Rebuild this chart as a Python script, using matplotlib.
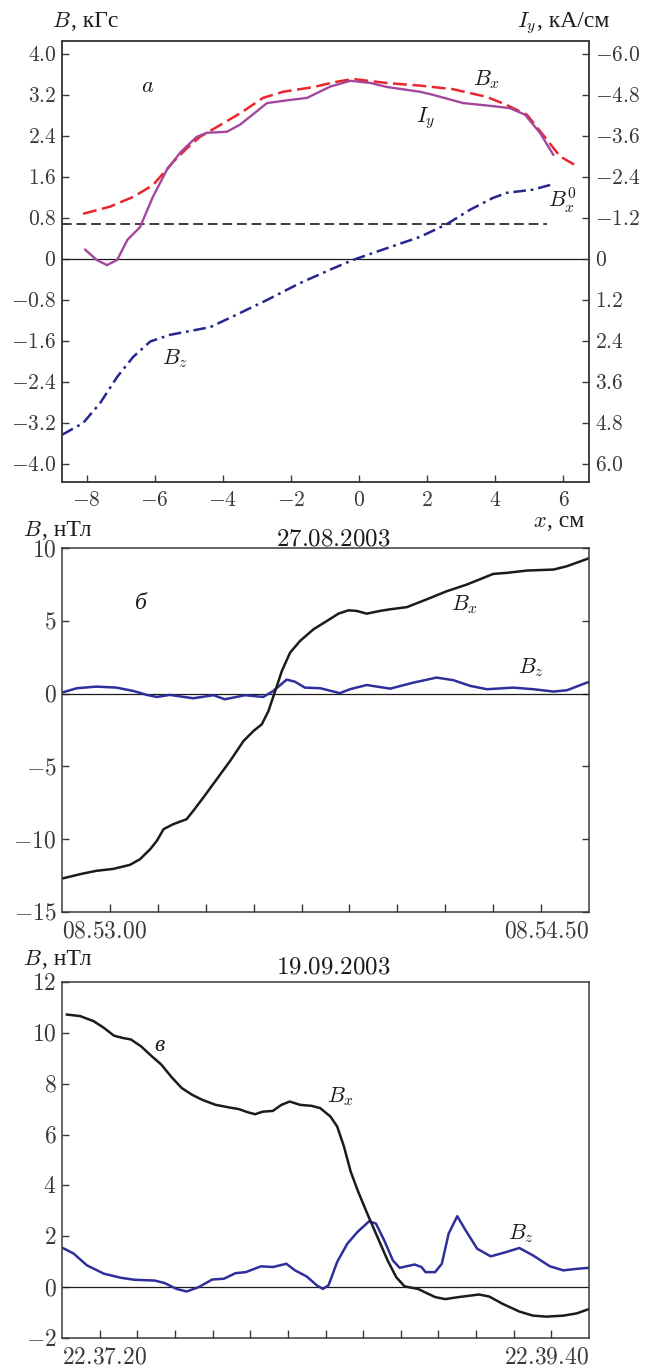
import matplotlib
matplotlib.use('Agg')
import matplotlib.pyplot as plt

plt.rcParams['mathtext.fontset'] = 'cm'
plt.rcParams['font.family'] = ['Liberation Serif', 'DejaVu Serif']
plt.rcParams['lines.scale_dashes'] = False

# ---- panel a: model profile along x (cm) ----------------------------------
aBxX = [-8.1, -7.31, -6.63, -6.05, -5.46, -5.05, -4.67, -4.08, -3.49, -2.82,
        -2.23, -1.35, -0.7, -0.18, 0.82, 1.79, 2.76, 3.75, 4.34, 4.93, 5.52,
        5.9, 6.34]
aBxY = [0.88, 1.02, 1.21, 1.44, 1.89, 2.16, 2.38, 2.61, 2.84, 3.14,
        3.26, 3.35, 3.45, 3.51, 3.43, 3.38, 3.31, 3.16, 3.0, 2.81, 2.32,
        2.0, 1.83]

# current density, kA/cm (right axis)
aIyX = [-8.04, -7.7, -7.4, -7.1, -6.8, -6.43, -6.05, -5.64, -5.25, -4.77,
        -4.47, -3.88, -3.49, -2.7, -2.03, -1.53, -0.85, -0.26, 0.32, 0.82,
        1.79, 2.17, 3.05, 3.93, 4.43, 4.87, 5.31, 5.7]
aIyY = [-0.27, 0.03, 0.18, 0.03, -0.56, -0.93, -1.82, -2.61, -3.11, -3.57,
        -3.69, -3.72, -3.93, -4.56, -4.65, -4.71, -5.04, -5.21, -5.15, -5.03,
        -4.89, -4.80, -4.56, -4.47, -4.41, -4.22, -3.69, -3.05]

aBzX = [-8.72, -8.1, -7.6, -7.1, -6.63, -6.13, -5.55, -4.37, -3.7, -2.7,
        -1.73, -0.85, -0.18, 0.82, 1.79, 2.58, 3.26, 3.93, 4.34, 5.1, 5.7]
aBzY = [-3.43, -3.2, -2.81, -2.3, -1.91, -1.61, -1.48, -1.33, -1.12, -0.80,
        -0.47, -0.21, -0.02, 0.21, 0.43, 0.68, 0.96, 1.19, 1.29, 1.35, 1.46]

aBx0X = [-8.72, 5.52]
aBx0Y = [0.68, 0.68]

aLeftTicks = [-4.0, -3.2, -2.4, -1.6, -0.8, 0, 0.8, 1.6, 2.4, 3.2, 4.0]
aLeftLabels = ['$-4.0$', '$-3.2$', '$-2.4$', '$-1.6$', '$-0.8$', '$0$',
               '$0.8$', '$1.6$', '$2.4$', '$3.2$', '$4.0$']
aRightTicks = [-6.0, -4.8, -3.6, -2.4, -1.2, 0, 1.2, 2.4, 3.6, 4.8, 6.0]
aRightLabels = ['$-6.0$', '$-4.8$', '$-3.6$', '$-2.4$', '$-1.2$', '$0$',
                '$1.2$', '$2.4$', '$3.6$', '$4.8$', '$6.0$']
aXTicks = [-8, -6, -4, -2, 0, 2, 4, 6]
aXLabels = ['$-8$', '$-6$', '$-4$', '$-2$', '$0$', '$2$', '$4$', '$6$']

# ---- panel b: 27.08.2003, seconds after 08.53.00 ---------------------------
bBxT = [0.3, 3.8, 7.2, 10.7, 14.2, 16.3, 18.4, 19.8, 21.2, 23.2, 26.0, 27.4,
        29.5, 32.3, 35.1, 37.9, 40.0, 41.7, 43.1, 44.5, 45.9, 47.6, 49.7,
        52.5, 55.3, 57.7, 59.8, 61.5, 63.6, 66.4, 68.5, 72.0, 76.1, 80.3,
        84.5, 90.0, 92.8, 97.0, 102.6, 105.4, 109.2, 110]
bBxY = [-12.68, -12.4, -12.17, -12.04, -11.76, -11.37, -10.69, -10.11, -9.31,
        -8.97, -8.63, -8.05, -7.14, -5.88, -4.62, -3.25, -2.56, -2.11, -1.19,
        0.18, 1.56, 2.81, 3.62, 4.42, 4.99, 5.49, 5.72, 5.68, 5.49, 5.68,
        5.79, 5.94, 6.47, 7.03, 7.49, 8.22, 8.29, 8.45, 8.52, 8.75, 9.2, 9.3]
bBzT = [0, 3.1, 7.2, 11.4, 14.9, 17.7, 19.8, 22.5, 27.4, 31.6, 34.0, 38.2,
        42.0, 44.1, 46.9, 48.6, 50.7, 53.9, 58.0, 60.1, 63.6, 68.5, 73.3,
        78.2, 81.7, 85.2, 88.7, 94.2, 98.4, 102.6, 105.4, 109.2, 110]
bBzY = [0.07, 0.37, 0.48, 0.41, 0.18, -0.09, -0.23, -0.09, -0.32, -0.11,
        -0.39, -0.11, -0.23, 0.18, 0.96, 0.82, 0.41, 0.37, 0.03, 0.3, 0.59,
        0.34, 0.75, 1.1, 0.92, 0.53, 0.3, 0.41, 0.3, 0.14, 0.23, 0.71, 0.8]
bYTicks = [-15, -10, -5, 0, 5, 10]
bYLabels = ['$-15$', '$-10$', '$-5$', '$0$', '$5$', '$10$']
bTimeLabels = ['$08.53.00$', '$08.54.50$']

# ---- panel c: 19.09.2003, seconds after 22.37.20 ---------------------------
cBxT = [1.3, 4.8, 8.4, 11.1, 13.8, 16.1, 18.3, 21.0, 23.7, 26.4, 29.1, 31.8,
        34.5, 37.2, 40.8, 44.3, 47.0, 49.3, 51.3, 53.3, 56.0, 58.3, 60.5,
        63.2, 66.3, 68.6, 71.3, 73.1, 74.9, 76.7, 78.5, 81.1, 83.8, 86.5,
        88.8, 91.0, 94.6, 96.4, 99.1, 101.8, 105.4, 110.8, 113.5, 117.1,
        121.5, 125.1, 128.7, 133.2, 136.8, 140]
cBxY = [10.72, 10.66, 10.46, 10.2, 9.89, 9.8, 9.74, 9.47, 9.1, 8.75, 8.26,
        7.83, 7.57, 7.37, 7.17, 7.07, 7.0, 6.88, 6.8, 6.9, 6.93, 7.17, 7.3,
        7.17, 7.13, 7.04, 6.71, 6.32, 5.53, 4.54, 3.82, 2.89, 1.97, 1.05,
        0.39, 0.03, -0.07, -0.2, -0.39, -0.47, -0.39, -0.29, -0.37, -0.66,
        -0.96, -1.12, -1.16, -1.12, -1.03, -0.86]
cBzT = [0.2, 3.1, 6.6, 11.1, 15.6, 19.2, 24.6, 27.3, 30.4, 33.1, 36.3, 39.9,
        43.0, 46.1, 48.8, 52.9, 56.0, 59.6, 61.9, 65.0, 67.7, 69.3, 70.8,
        73.1, 75.8, 78.5, 81.6, 83.4, 85.6, 87.9, 89.7, 91.5, 93.7, 95.5,
        96.6, 99.1, 100.9, 102.7, 105.0, 107.2, 110.3, 113.9, 118.0, 121.5,
        125.1, 129.6, 133.2, 136.8, 140]
cBzY = [1.54, 1.32, 0.86, 0.53, 0.37, 0.29, 0.26, 0.16, -0.07, -0.17, 0.0,
        0.3, 0.33, 0.55, 0.59, 0.82, 0.79, 0.92, 0.66, 0.42, 0.07, -0.07,
        0.07, 0.99, 1.71, 2.17, 2.59, 2.5, 1.84, 1.05, 0.76, 0.82, 0.89,
        0.79, 0.59, 0.59, 0.92, 2.1, 2.79, 2.24, 1.51, 1.21, 1.38, 1.54,
        1.25, 0.82, 0.66, 0.72, 0.76]
cYTicks = [-2, 0, 2, 4, 6, 8, 10, 12]
cYLabels = ['$-2$', '$0$', '$2$', '$4$', '$6$', '$8$', '$10$', '$12$']
cTimeLabels = ['$22.37.20$', '$22.39.40$']

# colours
red = '#e8262d'
purple = '#a3479e'
navy = '#26268f'
blue = '#2f2f9c'
black = '#1b1b1b'
frame = '#3a3a3a'

W, H = 652, 1367
fig = plt.figure(figsize=(W / 100, H / 100), dpi=100)


def box(left, top, right, bottom):
    return [left / W, 1 - bottom / H, (right - left) / W, (bottom - top) / H]


def style(ax, size):
    for s in ax.spines.values():
        s.set_color(frame)
        s.set_linewidth(1.1)
    ax.tick_params(direction='in', length=5, width=1, colors=frame,
                   labelsize=size, pad=4)


def put_text(x, y, parts, ha='left'):
    # chain of text pieces on one baseline, pixel coords from the top left
    r = fig.canvas.get_renderer()
    objs, widths = [], []
    for s, kw in parts:
        t = fig.text(0, 0, s, va='baseline', ha='left', color=black, **kw)
        objs.append(t)
        widths.append(t.get_window_extent(r).width)
    if ha == 'right':
        x -= sum(widths)
    elif ha == 'center':
        x -= sum(widths) / 2
    for t, w in zip(objs, widths):
        t.set_position((x / W, 1 - y / H))
        x += w


# ---- panel a ----------------------------------------------------------------
axA = fig.add_axes(box(62, 41, 589, 482))
style(axA, 15.5)
axA.set_xlim(-8.72, 6.75)
axA.set_ylim(-4.35, 4.25)
axA.axhline(0, color=black, lw=0.9)
axA.plot(aBx0X, aBx0Y, color=black, lw=1.2, dashes=(7, 3.5))
axA.plot(aBzX, aBzY, color=navy, lw=1.8, dashes=(9, 3.5, 2, 3.5))
axA.plot(aBxX, aBxY, color=red, lw=1.8, dashes=(10, 4))
axA.set_yticks(aLeftTicks, aLeftLabels)
axA.set_xticks(aXTicks, aXLabels)
axA.tick_params(axis='x', pad=7)

axI = axA.twinx()
axI.set_ylim(-1.5 * -4.35, -1.5 * 4.25)
axI.plot(aIyX, aIyY, color=purple, lw=1.7)
style(axI, 15.5)
axI.set_yticks(aRightTicks, aRightLabels)

axA.text(-6.2, 3.35, '$a$', fontsize=16, color=black, ha='center', va='center')
axA.text(3.75, 3.5, '$B_x$', fontsize=16, color=black, ha='center', va='center')
axA.text(1.95, 2.75, '$I_y$', fontsize=16, color=black, ha='center', va='center')
axA.text(5.95, 1.15, '$B_x^0$', fontsize=16, color=black, ha='center', va='center')
axA.text(-5.4, -1.95, '$B_z$', fontsize=16, color=black, ha='center', va='center')

# ---- panel b ----------------------------------------------------------------
axB = fig.add_axes(box(62, 548, 589, 912))
style(axB, 17)
axB.set_xlim(0, 110)
axB.set_ylim(-15, 10)
axB.axhline(0, color=black, lw=0.9)
axB.plot(bBzT, bBzY, color=blue, lw=1.8)
axB.plot(bBxT, bBxY, color=black, lw=1.8)
axB.set_yticks(bYTicks, bYLabels)
axB.set_xticks(range(10, 110, 10), minor=True)
axB.set_xticks([0, 110], bTimeLabels)
axB.tick_params(axis='x', which='major', length=0, pad=7)
axB.tick_params(axis='x', which='minor', direction='in', length=6, width=1,
                colors=frame)
axB.tick_params(axis='y', right=True)
lb = axB.get_xticklabels()
lb[0].set_ha('left')
lb[1].set_ha('right')
axB.text(16.5, 6.2, 'б', fontsize=17, style='italic', color=black,
         ha='center', va='center')
axB.text(84, 6.1, '$B_x$', fontsize=16, color=black, ha='center', va='center')
axB.text(98, 1.8, '$B_z$', fontsize=16, color=black, ha='center', va='center')

# ---- panel c ----------------------------------------------------------------
axC = fig.add_axes(box(62, 982, 589, 1338))
style(axC, 17)
axC.set_xlim(0, 140)
axC.set_ylim(-2, 12)
axC.axhline(0, color=black, lw=0.9)
axC.plot(cBzT, cBzY, color=blue, lw=1.8)
axC.plot(cBxT, cBxY, color=black, lw=1.8)
axC.set_yticks(cYTicks, cYLabels)
axC.set_xticks(range(10, 140, 10), minor=True)
axC.set_xticks([0, 140], cTimeLabels)
axC.tick_params(axis='x', which='major', length=0, pad=7)
axC.tick_params(axis='x', which='minor', direction='in', length=6, width=1,
                colors=frame)
lc = axC.get_xticklabels()
lc[0].set_ha('left')
lc[1].set_ha('right')
axC.text(26, 9.5, 'в', fontsize=17, style='italic', color=black,
         ha='center', va='center')
axC.text(74, 7.5, '$B_x$', fontsize=16, color=black, ha='center', va='center')
axC.text(122, 2.1, '$B_z$', fontsize=16, color=black, ha='center', va='center')

# ---- axis captions ------------------------------------------------------------
cyr = dict(fontsize=17, family=['Liberation Serif'])
mth = dict(fontsize=16)
put_text(52, 27, [('$B$', mth), (', кГс', cyr)])
put_text(609, 27, [('$I_y$', mth), (', кА/см', cyr)], ha='right')
put_text(584, 527, [('$x$', mth), (', см', cyr)], ha='right')
put_text(23, 536, [('$B$', mth), (', нТл', cyr)])
put_text(333, 546, [('$27.08.2003$', dict(fontsize=18))], ha='center')
put_text(23, 965, [('$B$', mth), (', нТл', cyr)])
put_text(333, 973, [('$19.09.2003$', dict(fontsize=18))], ha='center')

fig.savefig('out.png', dpi=100)
